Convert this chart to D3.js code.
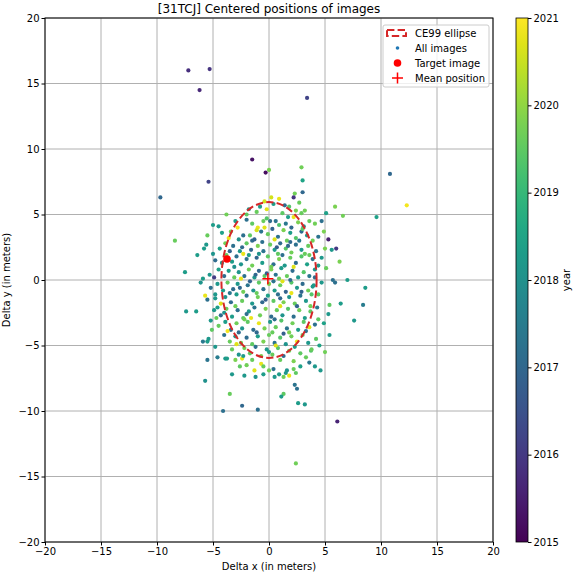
<!DOCTYPE html>
<html>
<head>
<meta charset="utf-8">
<script src="https://cdn.jsdelivr.net/npm/d3@7"></script>
<style>
  body { margin: 0; background: #fff; }
  text { font-family: "DejaVu Sans", sans-serif; }
</style>
</head>
<body>
<svg id="chart" width="576" height="576"></svg>
<script>
'use strict';

const title = '[31TCJ] Centered positions of images';
const xTicks = [-20, -15, -10, -5, 0, 5, 10, 15, 20];
const yTicks = [-20, -15, -10, -5, 0, 5, 10, 15, 20];
const yearTicks = [2015, 2016, 2017, 2018, 2019, 2020, 2021];

// [delta x, delta y, year]
const images = [
    [-7.2,16.0,2015.8],[-5.3,16.1,2015.9],[-6.2,14.5,2015.7],[3.4,13.9,2016.2],[-9.7,6.3,2017.0],
    [-5.4,7.5,2016.2],[-1.5,9.2,2015.3],[-0.3,8.2,2015.2],[0.0,8.4,2019.8],[2.9,8.6,2019.7],
    [3.0,7.6,2018.5],[10.8,8.1,2017.0],[12.3,5.7,2020.9],[9.6,4.8,2018.4],[5.9,5.6,2019.8],
    [6.6,4.9,2019.7],[5.1,5.1,2018.4],[-8.4,3.0,2019.6],[-7.5,0.6,2018.3],[-7.4,-2.4,2018.2],
    [-6.5,-2.4,2018.3],[-5.5,-6.1,2017.3],[-5.7,-7.7,2018.0],[-5.4,-4.5,2018.2],[-4.6,-5.9,2017.5],
    [-4.1,-10.0,2017.2],[-2.4,-9.6,2017.0],[-1.0,-9.9,2017.2],[2.4,-14.0,2019.7],[6.1,-10.8,2015.6],
    [2.3,-8.0,2017.3],[2.5,-8.3,2017.2],[1.3,-7.4,2019.7],[1.3,-8.7,2019.5],[1.1,-8.9,2018.3],
    [2.6,-9.4,2018.3],[3.6,-6.3,2017.4],[3.3,-5.9,2019.6],[4.5,-5.0,2018.5],[8.4,-1.9,2017.5],
    [7.6,-3.1,2018.2],[8.6,-0.6,2018.3],[4.6,-6.9,2018.2],[3.75,-5.4,2019.4],[4.9,-3.3,2018.4],
    [5.4,-1.9,2019.5],[6.4,-1.8,2018.3],[5.3,3.1,2015.5],[6.0,2.4,2016.0],[5.6,2.3,2018.2],
    [6.3,1.4,2019.8],[5.9,-0.2,2017.2],[7.0,0.0,2018.3],[4.7,-0.2,2018.2],[4.1,0.2,2017.1],
    [4.4,-1.1,2019.5],[-6.1,-0.2,2018.1],[-4.9,0.2,2016.1],[-5.7,-1.2,2020.8],[-4.3,-1.8,2020.7],
    [-4.8,-1.4,2018.2],[-6.4,1.9,2018.3],
    // upper part of the cloud
    [0.9,6.2,2020.8],[1.4,5.7,2017.1],[2.3,6.6,2019.7],[3.0,6.7,2017.0],[2.2,6.3,2015.9],
    [-1.1,5.2,2019.6],[-0.2,5.4,2020.7],[1.2,5.1,2019.5],[2.4,5.3,2019.8],[2.9,5.1,2019.6],
    [3.2,5.3,2019.7],[0.4,5.8,2018.3],[-0.4,6.0,2020.6],[1.8,5.6,2019.4],[-2.0,5.0,2019.5],
    [1.7,4.8,2018.4],[2.2,4.8,2020.8],[0.1,4.5,2017.1],[0.6,4.5,2017.3],[-0.5,4.5,2019.6],
    [-3.0,4.5,2018.3],[-1.0,4.0,2020.8],[-0.4,4.0,2020.7],[-2.8,4.0,2020.9],[-4.5,4.1,2018.2],
    [-2.0,4.6,2017.2],[-1.5,4.3,2019.5],[0.9,4.2,2019.3],[1.5,4.3,2017.4],[2.6,4.4,2019.8],
    [3.1,4.1,2018.1],[3.6,4.5,2019.6],[4.1,4.3,2019.7],[-0.2,4.7,2019.4],[2.0,4.0,2017.0],
    [-3.4,3.7,2019.7],[-5.5,3.4,2019.6],[-3.6,3.2,2020.8],[-2.3,3.4,2017.2],[-1.7,3.4,2019.5],
    [-1.5,3.0,2017.1],[-0.7,3.7,2017.3],[-0.1,3.5,2019.6],[0.3,3.9,2016.9],[0.8,3.3,2017.2],
    [1.3,3.8,2019.8],[1.9,3.6,2018.3],[2.4,3.2,2019.4],[2.9,3.7,2017.1],[3.4,3.4,2018.2],
    [3.9,3.0,2019.7],[4.4,3.3,2017.3],[-2.7,3.1,2018.0],[-4.2,3.6,2018.4],[0.5,3.1,2020.7],
    [1.6,3.0,2019.6],[-1.1,3.8,2020.6],[3.0,3.9,2019.5],
    [-5.6,2.7,2018.2],[-5.8,2.4,2018.3],[-5.0,2.0,2018.1],[-4.4,2.4,2018.4],[-3.9,2.8,2019.7],
    [-3.2,2.6,2017.2],[-2.6,2.2,2018.2],[-2.0,2.8,2019.5],[-1.6,2.3,2017.0],[-1.0,2.6,2019.8],
    [-0.5,2.2,2017.3],[0.1,2.7,2019.6],[0.5,2.3,2018.3],[1.0,2.8,2017.1],[1.5,2.4,2019.4],
    [2.0,2.1,2019.7],[2.4,2.7,2017.2],[2.9,2.3,2018.2],[3.5,2.6,2019.6],[4.2,2.2,2017.4],
    [5.0,2.4,2019.8],[-2.3,2.0,2020.8],[0.8,2.0,2019.5],[3.2,2.0,2019.6],[-0.9,2.0,2018.1],
    [1.9,2.9,2017.0],
    [-4.8,1.5,2017.1],[-4.2,1.3,2018.2],[-3.8,1.9,2019.6],[-3.3,1.4,2018.3],[-2.9,1.8,2017.2],
    [-2.5,1.2,2018.1],[-2.0,1.6,2017.3],[-1.5,1.1,2019.7],[-1.1,1.7,2017.0],[-0.6,1.3,2018.3],
    [-0.1,1.8,2019.5],[0.4,1.2,2017.2],[0.9,1.6,2019.8],[1.4,1.1,2018.2],[1.9,1.7,2019.6],
    [2.4,1.3,2017.1],[2.9,1.8,2019.4],[3.4,1.2,2018.4],[3.9,1.6,2017.3],[4.4,1.1,2018.2],
    [-3.1,1.0,2018.0],[0.2,1.0,2019.7],[2.2,1.0,2020.7],[-1.8,1.9,2018.3],[1.2,1.9,2017.2],
    [3.6,1.9,2019.6],
    // middle
    [-5.3,0.4,2018.2],[-4.5,0.8,2018.4],[-4.0,0.3,2017.1],[-3.6,0.7,2018.3],[-3.1,0.2,2019.6],
    [-2.7,0.6,2018.1],[-2.2,0.3,2017.2],[-1.8,0.8,2019.7],[-1.3,0.2,2018.2],[-0.9,0.7,2017.0],
    [-0.4,0.3,2019.5],[0.2,0.8,2019.8],[0.6,0.4,2017.3],[1.1,0.9,2018.3],[1.6,0.3,2019.6],
    [2.1,0.7,2017.1],[2.6,0.2,2018.2],[3.1,0.6,2019.4],[3.6,0.3,2017.4],[4.1,0.8,2018.1],
    [5.7,0.0,2017.2],[-2.5,0.1,2020.8],[0.9,0.1,2019.7],[-5.9,0.1,2018.3],
    [-5.2,-0.6,2017.2],[-4.6,-0.3,2018.2],[-4.1,-0.8,2018.3],[-3.7,-0.2,2019.6],[-3.2,-0.7,2017.1],
    [-2.8,-0.3,2018.2],[-2.3,-0.9,2019.7],[-1.9,-0.4,2017.3],[-1.4,-0.8,2018.1],[-0.9,-0.2,2019.5],
    [-0.5,-0.7,2017.2],[0.0,-0.3,2019.8],[0.5,-0.8,2018.3],[1.0,-0.4,2019.6],[1.5,-0.9,2016.9],
    [2.0,-0.2,2019.4],[2.5,-0.6,2018.2],[3.0,-0.3,2017.1],[3.5,-0.8,2019.7],[4.0,-0.4,2018.3],
    [1.2,-0.1,2020.7],[-1.1,-1.0,2019.6],
    [-5.5,-1.5,2017.2],[-4.8,-1.1,2018.2],[-3.9,-1.3,2018.1],[-3.4,-1.7,2017.1],[-2.9,-1.1,2018.3],
    [-2.4,-1.6,2019.6],[-2.0,-1.2,2017.3],[-1.5,-1.8,2018.2],[-1.0,-1.3,2019.7],[-0.6,-1.7,2017.0],
    [-0.1,-1.2,2018.4],[0.4,-1.6,2019.5],[0.8,-1.1,2017.2],[1.3,-1.7,2019.8],[1.8,-1.3,2018.1],
    [2.3,-1.8,2019.6],[2.8,-1.2,2017.3],[3.3,-1.6,2018.2],[3.8,-1.1,2019.4],[2.0,-1.0,2020.8],
    [-3.0,-2.0,2019.7],
    // lower part of the cloud
    [-4.9,-2.3,2018.2],[-4.3,-2.7,2017.1],[-3.8,-2.2,2019.6],[-3.3,-2.8,2018.3],[-2.8,-2.3,2017.2],
    [-2.3,-2.9,2019.5],[-1.8,-2.4,2018.2],[-1.3,-2.1,2017.3],[-0.8,-2.7,2019.7],[-0.3,-2.2,2019.8],
    [0.2,-2.8,2017.1],[0.7,-2.3,2019.6],[1.2,-2.7,2018.1],[1.7,-2.2,2019.4],[2.2,-2.8,2017.2],
    [2.7,-2.3,2019.7],[3.2,-2.9,2018.3],[3.7,-2.4,2019.5],[4.3,-2.1,2017.4],[5.3,-2.6,2018.2],
    [-1.6,-2.9,2020.8],[1.0,-2.0,2020.7],[-4.7,-2.9,2019.6],
    [-5.2,-3.1,2018.2],[-4.5,-3.5,2019.6],[-3.9,-3.2,2018.3],[-3.4,-3.8,2017.2],[-2.9,-3.3,2019.7],
    [-2.4,-3.7,2018.1],[-1.9,-3.2,2019.5],[-1.4,-3.8,2017.1],[-0.9,-3.3,2020.8],[-0.4,-3.7,2019.8],
    [0.1,-3.2,2018.2],[0.6,-3.6,2019.6],[1.1,-3.1,2019.4],[1.6,-3.7,2017.3],[2.1,-3.3,2019.7],
    [2.6,-3.8,2018.3],[3.1,-3.2,2019.5],[3.6,-3.6,2020.7],[4.1,-3.4,2017.2],[-3.7,-3.9,2020.9],
    [0.3,-4.0,2019.6],[-2.2,-3.0,2019.7],
    [-4.0,-4.2,2017.2],[-3.5,-4.7,2019.6],[-3.0,-4.3,2018.2],[-2.5,-4.8,2019.7],[-2.0,-4.4,2017.1],
    [-1.5,-4.9,2019.5],[-1.0,-4.3,2018.3],[-0.5,-4.7,2019.8],[0.0,-4.2,2019.6],[0.5,-4.8,2017.3],
    [1.0,-4.4,2019.4],[1.5,-4.9,2018.1],[2.0,-4.3,2019.7],[2.5,-4.7,2020.8],[3.0,-4.2,2019.6],
    [3.5,-4.8,2018.2],[4.2,-4.5,2019.5],[-5.5,-4.7,2018.3],[-2.9,-4.9,2020.7],[1.8,-4.0,2019.8],
    [-3.9,-6.0,2018.2],[-3.75,-6.0,2018.3],[-3.3,-5.3,2019.6],[-2.7,-5.7,2018.1],[-2.2,-5.2,2019.7],
    [-1.7,-5.6,2019.5],[-1.2,-5.1,2017.2],[-0.7,-5.8,2019.8],[-0.2,-5.3,2018.2],[0.3,-5.7,2019.6],
    [0.8,-5.2,2019.4],[1.3,-5.8,2017.1],[1.8,-5.4,2019.7],[2.3,-5.1,2018.3],[2.8,-5.6,2019.5],
    [3.8,-5.3,2019.6],[-2.4,-6.0,2020.8],[0.6,-5.0,2020.7],[5.0,-5.5,2019.7],[-4.8,-5.1,2018.2],
    [-2.3,-5.8,2018.3],[-2.2,-7.3,2018.2],[-1.2,-7.4,2018.1],[-0.5,-7.2,2018.3],[-0.7,-6.4,2020.8],
    [-0.5,-6.6,2019.6],[0.0,-6.9,2019.7],[0.4,-6.8,2017.2],[0.5,-7.4,2018.2],[0.9,-7.2,2018.3],
    [1.5,-7.1,2018.2],[1.6,-6.9,2018.1],[1.8,-7.3,2020.8],[2.2,-6.8,2019.6],[2.4,-7.1,2019.5],
    [-2.0,-6.5,2019.7],[-1.3,-6.9,2020.7],[1.0,-6.1,2019.6],[2.2,-6.2,2019.8],[-3.3,-7.2,2018.2],
    [2.8,-6.6,2018.4],[-2.6,-6.6,2019.5],[4.1,-6.6,2018.2],
    // extra scattered images
    [-1.3,3.1,2016.9],[-0.6,2.9,2017.2],[0.7,2.5,2016.8],[1.7,2.6,2017.0],[2.7,3.0,2017.4],
    [-2.4,2.5,2017.1],[-3.5,2.2,2016.9],[-1.2,0.4,2017.0],[-0.2,0.5,2016.8],[0.4,-0.1,2017.3],
    [1.9,0.0,2017.1],[2.9,-0.9,2016.9],[-2.6,-0.6,2017.0],[-1.7,-0.1,2016.9],[-3.5,-1.0,2017.4],
    [-0.3,-1.5,2016.8],[1.0,-1.4,2017.0],[2.5,-2.0,2016.9],[-2.0,-2.6,2017.2],[0.5,-3.0,2017.1],
    [-1.1,-4.0,2017.0],[1.3,-4.1,2016.8],[3.3,-3.9,2017.3],[-2.7,-4.0,2017.1],[0.0,-5.5,2018.3],
    [-1.5,-6.1,2019.6],[-3.0,-6.1,2019.8],[3.9,-0.5,2018.2],[3.7,-2.0,2019.7],[-4.6,-2.1,2018.3],
    [-4.0,-2.5,2018.1],[4.4,-3.0,2019.5],[-0.8,5.6,2018.3],[0.2,6.3,2020.6],[2.7,5.9,2019.6],
    [-1.8,5.4,2018.2],[-3.8,5.0,2019.7],[-5.0,4.2,2018.3],[4.7,4.5,2017.2],[4.9,3.7,2019.8],
    [4.7,1.7,2018.2],[5.1,0.9,2019.6],[-5.1,-3.8,2019.5],[-5.9,-4.7,2017.4],[5.4,-4.2,2018.3],
    [-3.5,-8.7,2019.6],[3.2,-9.5,2018.2]
];

const targetImage = [-3.75, 1.6];
const meanPosition = [-0.1, 0.1];
const ellipseRadii = [4.25, 5.95];   // CE99, in meters
const legendLabels = ['CE99 ellipse', 'All images', 'Target image', 'Mean position'];

const svg = d3.select('#chart');
const plotL = 45, plotR = 493, plotT = 18, plotB = 542;

const x = d3.scaleLinear().domain([-20, 20]).range([plotL, plotR]);
const y = d3.scaleLinear().domain([-20, 20]).range([plotB, plotT]);
const color = d3.scaleSequential(d3.interpolateViridis).domain([2015, 2021]);

// grid
svg.append('g')
    .selectAll('line')
    .data(xTicks)
    .enter()
    .append('line')
    .attr('x1', d => x(d)).attr('x2', d => x(d))
    .attr('y1', plotT).attr('y2', plotB)
    .style('stroke', '#b0b0b0').style('stroke-width', 1);
svg.append('g')
    .selectAll('line')
    .data(yTicks)
    .enter()
    .append('line')
    .attr('y1', d => y(d)).attr('y2', d => y(d))
    .attr('x1', plotL).attr('x2', plotR)
    .style('stroke', '#b0b0b0').style('stroke-width', 1);

// points
svg.append('g')
    .selectAll('circle')
    .data(images)
    .enter()
    .append('circle')
    .attr('cx', d => x(d[0]))
    .attr('cy', d => y(d[1]))
    .attr('r', 2.1)
    .style('fill', d => color(d[2]));

// CE99 ellipse
svg.append('ellipse')
    .attr('cx', x(0)).attr('cy', y(0))
    .attr('rx', x(ellipseRadii[0]) - x(0))
    .attr('ry', y(0) - y(ellipseRadii[1]))
    .style('fill', 'none')
    .style('stroke', '#d62728')
    .style('stroke-width', 2)
    .style('stroke-dasharray', '7.4,3.2');

// target and mean
svg.append('circle')
    .attr('cx', x(targetImage[0])).attr('cy', y(targetImage[1]))
    .attr('r', 3.8).style('fill', 'red');

function plus(g, px, py, s) {
    g.append('path')
        .attr('d', `M${px - s},${py}H${px + s}M${px},${py - s}V${py + s}`)
        .style('stroke', 'red').style('stroke-width', 1.5).style('fill', 'none');
}
plus(svg, x(meanPosition[0]), y(meanPosition[1]), 5.5);

// axes
const fmt = d => d < 0 ? '\u2212' + Math.abs(d) : d;
const xAxis = svg.append('g')
    .attr('transform', `translate(0,${plotB})`)
    .call(d3.axisBottom(x).tickValues(xTicks).tickSize(3.5).tickPadding(2).tickFormat(fmt));
const yAxis = svg.append('g')
    .attr('transform', `translate(${plotL},0)`)
    .call(d3.axisLeft(y).tickValues(yTicks).tickSize(3.5).tickPadding(2).tickFormat(fmt));
[xAxis, yAxis].forEach(a => {
    a.selectAll('.domain').remove();
    a.selectAll('text').style('font-size', '10px').style('fill', '#000');
    a.selectAll('line').style('stroke', '#000');
});

svg.append('rect')
    .attr('x', plotL).attr('y', plotT)
    .attr('width', plotR - plotL).attr('height', plotB - plotT)
    .style('fill', 'none').style('stroke', '#000').style('stroke-width', 1);

svg.append('text')
    .attr('x', (plotL + plotR) / 2).attr('y', 13)
    .attr('text-anchor', 'middle')
    .style('font-size', '12px')
    .text(title);
svg.append('text')
    .attr('x', (plotL + plotR) / 2).attr('y', 570)
    .attr('text-anchor', 'middle')
    .style('font-size', '10px')
    .text('Delta x (in meters)');
svg.append('text')
    .attr('transform', `translate(10,${(plotT + plotB) / 2}) rotate(-90)`)
    .attr('text-anchor', 'middle')
    .style('font-size', '10px')
    .text('Delta y (in meters)');

// legend
const lg = svg.append('g').attr('transform', 'translate(383,25)');
lg.append('rect')
    .attr('width', 106).attr('height', 62).attr('rx', 2)
    .style('fill', 'rgba(255,255,255,0.8)').style('stroke', '#ccc');
const rowY = i => 8 + i * 15;
lg.append('rect')
    .attr('x', 4).attr('y', rowY(0) - 3).attr('width', 19).attr('height', 6)
    .style('fill', 'none').style('stroke', '#d62728').style('stroke-width', 2)
    .style('stroke-dasharray', '7.4,3.2');
lg.append('circle').attr('cx', 14.5).attr('cy', rowY(1)).attr('r', 1.8).style('fill', '#1f77b4');
lg.append('circle').attr('cx', 14.5).attr('cy', rowY(2)).attr('r', 3.8).style('fill', 'red');
plus(lg, 14.5, rowY(3), 5.5);
lg.selectAll('text.lab')
    .data(legendLabels)
    .enter()
    .append('text')
    .attr('class', 'lab')
    .attr('x', 32).attr('y', (d, i) => rowY(i) + 3.5)
    .style('font-size', '10px')
    .text(d => d);

// colorbar
const cbX = 516, cbW = 12;
const yearScale = d3.scaleLinear().domain([2015, 2021]).range([plotB, plotT]);
const defs = svg.append('defs');
const grad = defs.append('linearGradient')
    .attr('id', 'viridis').attr('x1', 0).attr('x2', 0).attr('y1', 1).attr('y2', 0);
d3.range(0, 1.0001, 0.05).forEach(t => {
    grad.append('stop').attr('offset', t).attr('stop-color', d3.interpolateViridis(t));
});
svg.append('rect')
    .attr('x', cbX).attr('y', plotT).attr('width', cbW).attr('height', plotB - plotT)
    .style('fill', 'url(#viridis)').style('stroke', '#000').style('stroke-width', 0.8);
const cAxis = svg.append('g')
    .attr('transform', `translate(${cbX + cbW},0)`)
    .call(d3.axisRight(yearScale).tickValues(yearTicks).tickSize(3.5).tickPadding(2).tickFormat(d3.format('d')));
cAxis.select('.domain').remove();
cAxis.selectAll('text').style('font-size', '10px').style('fill', '#000');
cAxis.selectAll('line').style('stroke', '#000');
svg.append('text')
    .attr('transform', `translate(570,${(plotT + plotB) / 2}) rotate(-90)`)
    .attr('text-anchor', 'middle')
    .style('font-size', '10px')
    .text('year');
</script>
</body>
</html>
